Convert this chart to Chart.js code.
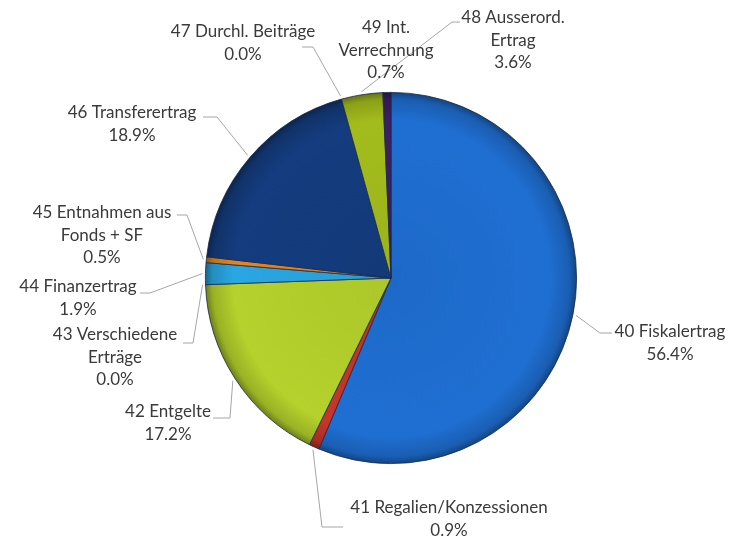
<!DOCTYPE html>
<html>
<head>
<meta charset="utf-8">
<script src="https://cdn.jsdelivr.net/npm/chart.js@4.4.1/dist/chart.umd.min.js"></script>
<style>
  html, body { margin: 0; padding: 0; background: #fff; }
  #wrap { width: 734px; height: 541px; }
</style>
</head>
<body>
<div id="wrap"><canvas id="pieChart" width="734" height="541"></canvas></div>
<script>
// Daten
const codes = ['40', '41', '42', '43', '44', '45', '46', '47', '48', '49'];
const names = [
  ['Fiskalertrag'],
  ['Regalien/Konzessionen'],
  ['Entgelte'],
  ['Verschiedene', 'Erträge'],
  ['Finanzertrag'],
  ['Entnahmen aus', 'Fonds + SF'],
  ['Transferertrag'],
  ['Durchl. Beiträge'],
  ['Ausserord.', 'Ertrag'],
  ['Int.', 'Verrechnung']
];
const shares = [56.4, 0.9, 17.2, 0.0, 1.9, 0.5, 18.9, 0.0, 3.6, 0.7];

const colors = ['#1f6fd2', '#c8352a', '#b4d12c', '#9bbb2a', '#2aa6e2', '#e3861e', '#143c7e', '#2c5fae', '#a3bc1c', '#3c1f63'];

// Position der Beschriftungen (Textmitte x, erste Zeile y, Knick, Linienende)
const labelPos = [
  { x: 670, y: 332, lines: [[600, 333], [612, 333]] },
  { x: 449, y: 508, lines: [[322, 527], [343, 527]] },
  { x: 168, y: 412, lines: [[230, 418], [213, 418]] },
  { x: 115, y: 335, lines: [[193, 343], [183, 343]] },
  { x: 78, y: 287, lines: [[150, 293], [140, 293]] },
  { x: 102, y: 213, lines: [[187, 215], [177, 215]] },
  { x: 132, y: 113, lines: [[217, 117], [203, 117]] },
  { x: 243, y: 32, lines: [[313, 47], [302, 47]] },
  { x: 513, y: 18, lines: [[452, 22], [460, 22]] },
  { x: 386, y: 28, lines: null }
];

const lineH = 22.5;

const labelPlugin = {
  id: 'pieLabels',
  afterDatasetsDraw(chart) {
    const ctx = chart.ctx;
    const meta = chart.getDatasetMeta(0);
    ctx.save();
    meta.data.forEach((arc, i) => {
      const p = labelPos[i];
      const mid = (arc.startAngle + arc.endAngle) / 2;
      const r = arc.outerRadius + 3;
      const ax = arc.x + Math.cos(mid) * r;
      const ay = arc.y + Math.sin(mid) * r;
      if (p.lines) {
        ctx.strokeStyle = '#a6a6a6';
        ctx.lineWidth = 1;
        ctx.beginPath();
        ctx.moveTo(ax, ay);
        p.lines.forEach(pt => ctx.lineTo(pt[0], pt[1]));
        ctx.stroke();
      }
      const txt = names[i].slice();
      txt[0] = codes[i] + ' ' + txt[0];
      txt.push(shares[i].toFixed(1) + '%');
      ctx.fillStyle = '#3a3a3a';
      ctx.font = '17px Lato';
      ctx.textAlign = 'center';
      ctx.textBaseline = 'middle';
      txt.forEach((t, k) => ctx.fillText(t, p.x, p.y + k * lineH));
    });
    ctx.restore();
  }
};

function shade(hex, f) {
  const n = parseInt(hex.slice(1), 16);
  let r = (n >> 16) & 255, g = (n >> 8) & 255, b = n & 255;
  r = Math.round(Math.min(255, r * f));
  g = Math.round(Math.min(255, g * f));
  b = Math.round(Math.min(255, b * f));
  return 'rgb(' + r + ',' + g + ',' + b + ')';
}

const ctx = document.getElementById('pieChart').getContext('2d');

const data = {
  labels: codes.map((c, i) => c + ' ' + names[i].join(' ')),
  datasets: [{
    data: shares,
    backgroundColor: (c) => {
      const base = colors[c.dataIndex];
      const a = c.chart.chartArea;
      if (!a) return base;
      const cx = (a.left + a.right) / 2, cy = (a.top + a.bottom) / 2;
      const r = Math.min(a.right - a.left, a.bottom - a.top) / 2;
      const g = c.chart.ctx.createRadialGradient(cx, cy, 0, cx, cy, r);
      g.addColorStop(0, shade(base, 0.95));
      g.addColorStop(0.85, base);
      g.addColorStop(0.96, shade(base, 0.85));
      g.addColorStop(1, shade(base, 0.6));
      return g;
    },
    borderColor: '#1b2a4a',
    borderWidth: 0.8
  }]
};

const config = {
  type: 'pie',
  data: data,
  options: {
    responsive: false,
    animation: false,
    layout: { padding: { left: 205, right: 157, top: 92, bottom: 77 } },
    plugins: {
      legend: { display: false },
      tooltip: { enabled: false }
    }
  },
  plugins: [labelPlugin]
};

const pieChart = new Chart(ctx, config);
</script>
</body>
</html>
